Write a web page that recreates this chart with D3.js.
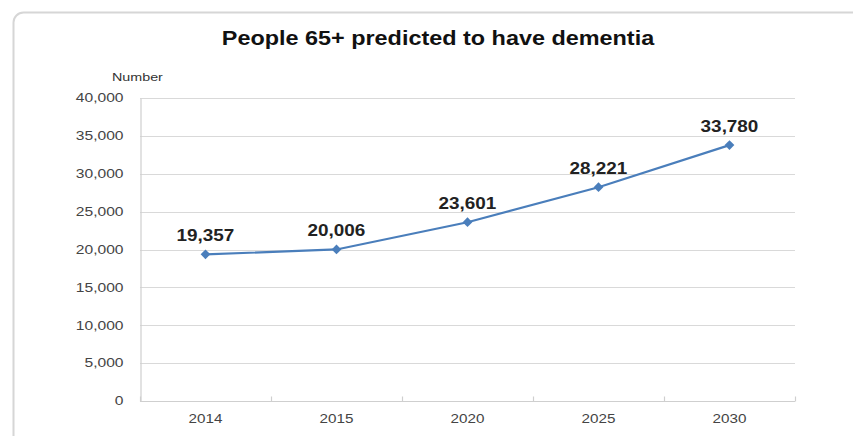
<!DOCTYPE html>
<html>
<head>
<meta charset="utf-8">
<script src="https://cdn.jsdelivr.net/npm/d3@7"></script>
<style>
  html, body { margin: 0; padding: 0; background: #fff; }
  svg { display: block; }
</style>
</head>
<body>
<svg id="chart" width="853" height="436"></svg>
<script>
// Projected number of people aged 65+ with dementia
const years = ["2014", "2015", "2020", "2025", "2030"];
const people = [19357, 20006, 23601, 28221, 33780];
const yTicks = [0, 5000, 10000, 15000, 20000, 25000, 30000, 35000, 40000];

const svg = d3.select("#chart");
const W = 853, H = 436;
const margin = { left: 140, right: 58, top: 98, bottom: 35 };
const FONT = "Liberation Sans, Arial, sans-serif";

// Widen text horizontally by factor k (the chart uses a broad face)
function widen(sel, k) {
  sel.each(function () {
    const len = this.getComputedTextLength();
    d3.select(this)
      .attr("textLength", len * k)
      .attr("lengthAdjust", "spacingAndGlyphs");
  });
}

// Outer chart frame with rounded corners
svg.append("rect")
  .attr("x", 13.5).attr("y", 12.5)
  .attr("width", 860).attr("height", 440)
  .attr("rx", 10)
  .attr("fill", "#fff")
  .attr("stroke", "#d6d6d6")
  .attr("stroke-width", 2);

const x = d3.scaleBand().domain(years).range([margin.left, W - margin.right]);
const y = d3.scaleLinear().domain([0, 40000]).range([H - margin.bottom, margin.top]);

// Horizontal gridlines
svg.append("g")
  .selectAll("line")
  .data(yTicks.filter(d => d > 0))
  .join("line")
  .attr("x1", margin.left).attr("x2", W - margin.right)
  .attr("y1", d => Math.round(y(d)) + 0.5).attr("y2", d => Math.round(y(d)) + 0.5)
  .attr("stroke", "#d9d9d9").attr("stroke-width", 1.2);

// Y axis
const yAxis = svg.append("g")
  .attr("transform", `translate(${margin.left + 0.5},0)`)
  .call(d3.axisLeft(y).tickValues(yTicks).tickSize(0).tickPadding(17)
    .tickFormat(d3.format(",")));
yAxis.select(".domain").attr("stroke", "#cfcfcf").attr("stroke-width", 1.2);
yAxis.selectAll("text")
  .attr("font-family", FONT)
  .attr("font-size", 12).attr("fill", "#444")
  .call(widen, 1.3);

// X axis with inward ticks at category boundaries
const xAxisY = Math.round(y(0)) + 0.5;
const xg = svg.append("g").attr("transform", `translate(0,${xAxisY})`);
xg.append("line")
  .attr("x1", margin.left).attr("x2", W - margin.right)
  .attr("stroke", "#cfcfcf").attr("stroke-width", 1.2);
const bounds = years.map(d => x(d)).concat([x.range()[1]]);
xg.selectAll("line.tick")
  .data(bounds)
  .join("line").attr("class", "tick")
  .attr("x1", d => Math.round(d) + 0.5).attr("x2", d => Math.round(d) + 0.5)
  .attr("y1", 0).attr("y2", -5)
  .attr("stroke", "#cfcfcf").attr("stroke-width", 1.2);
xg.selectAll("text")
  .data(years)
  .join("text")
  .attr("x", d => x(d) + x.bandwidth() / 2)
  .attr("y", 21)
  .attr("text-anchor", "middle")
  .attr("font-family", FONT)
  .attr("font-size", 12).attr("fill", "#444")
  .text(d => d)
  .call(widen, 1.27);

// Title and axis caption
svg.append("text")
  .attr("x", 438).attr("y", 45)
  .attr("text-anchor", "middle")
  .attr("font-family", FONT)
  .attr("font-size", 20).attr("font-weight", "bold").attr("fill", "#111")
  .text("People 65+ predicted to have dementia")
  .call(widen, 1.17);

svg.append("text")
  .attr("x", 112).attr("y", 81)
  .attr("font-family", FONT)
  .attr("font-size", 11).attr("fill", "#333")
  .text("Number")
  .call(widen, 1.3);

// Data line
const pts = years.map((d, i) => ({ year: d, value: people[i] }));
const cx = d => x(d.year) + x.bandwidth() / 2;
svg.append("path")
  .datum(pts)
  .attr("fill", "none")
  .attr("stroke", "#4a7ebb")
  .attr("stroke-width", 2.2)
  .attr("d", d3.line().x(cx).y(d => y(d.value)));

// Diamond markers
svg.append("g")
  .selectAll("path")
  .data(pts)
  .join("path")
  .attr("transform", d => `translate(${cx(d)},${y(d.value)})`)
  .attr("d", d3.symbol(d3.symbolDiamond2, 60)())
  .attr("fill", "#4a7ebb");

// Value labels
svg.append("g")
  .selectAll("text")
  .data(pts)
  .join("text")
  .attr("x", cx)
  .attr("y", d => y(d.value) - 13)
  .attr("text-anchor", "middle")
  .attr("font-family", FONT)
  .attr("font-size", 16).attr("font-weight", "bold").attr("fill", "#222")
  .text(d => d3.format(",")(d.value))
  .call(widen, 1.18);
</script>
</body>
</html>
